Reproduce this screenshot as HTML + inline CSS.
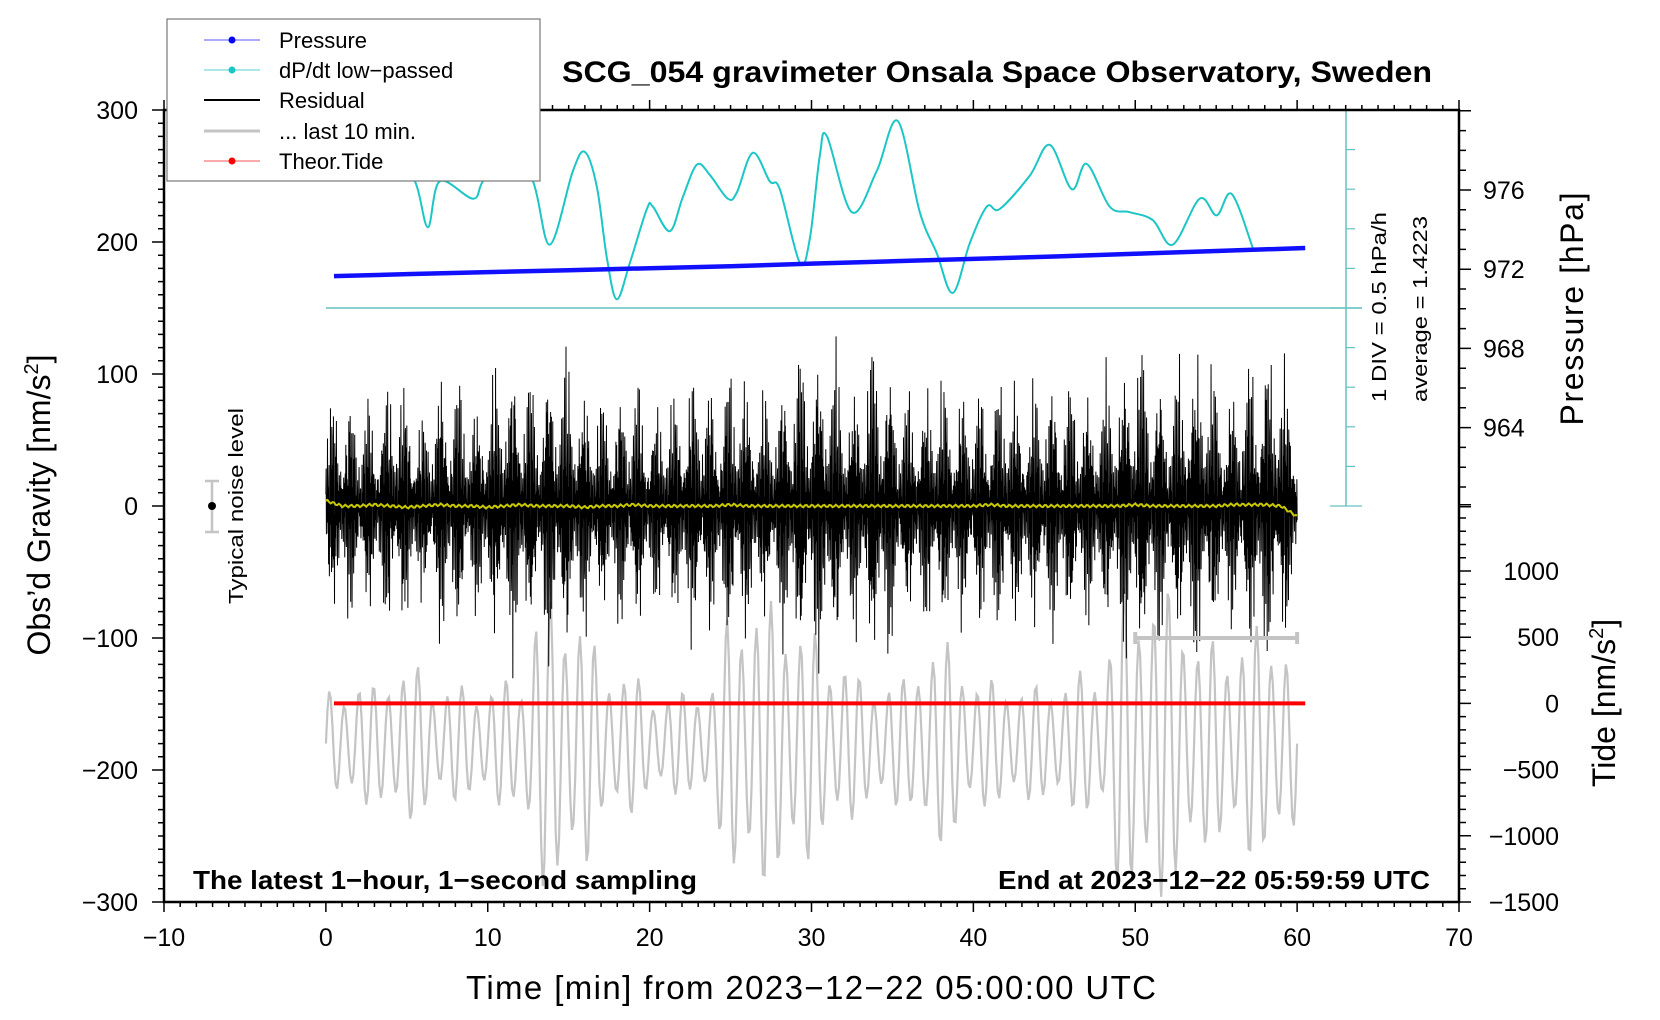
<!DOCTYPE html>
<html><head><meta charset="utf-8"><style>
html,body{margin:0;padding:0;background:#fff;}
svg{display:block;font-family:"Liberation Sans",Arial,sans-serif;}
</style></head><body>
<svg id="chart" width="1660" height="1020" viewBox="0 0 1660 1020" xmlns="http://www.w3.org/2000/svg">
<rect width="1660" height="1020" fill="#fff"/>
<g id="marks"></g>
<g id="axes"></g>
</svg>
<script>
// ---- data ----
const cyanT = [0,2,4,5.5,6.3,7.04,9.08,9.7,11.2,12.79,13.84,15.26,16.0,16.74,17.36,17.97,18.78,19.83,20.2,21.25,22.05,22.92,23.72,24.83,25.39,26.37,27.42,28.04,29.28,29.9,30.51,30.95,32.49,34.03,35.33,36.69,37.74,38.73,39.78,40.83,41.63,43.48,44.72,46.08,47.0,48.42,49.66,51.08,52.32,53.98,55.03,55.96,57.26];
const cyanV = [2.2,2.0,1.95,1.6,1.02,1.6,1.38,1.6,2.0,1.6,0.8,1.73,1.97,1.53,0.63,0.11,0.57,1.25,1.28,0.97,1.4,1.81,1.68,1.38,1.46,1.96,1.6,1.5,0.57,0.88,1.92,2.17,1.21,1.73,2.36,1.21,0.69,0.19,0.82,1.28,1.25,1.67,2.06,1.5,1.82,1.28,1.21,1.11,0.8,1.38,1.17,1.44,0.76];
const pressT = [0.5,5,10,15,20,25,30,35,40,45,50,55,60.5];
const pressV = [971.65,971.75,971.85,971.95,972.05,972.15,972.28,972.4,972.52,972.64,972.78,972.92,973.07];
const residEnv = [70,80,75,70,90,85,60,90,95,70,85,100,105,80,110,100,85,75,80,90,70,75,85,95,80,100,90,75,85,110,100,120,85,90,120,95,75,85,90,80,80,85,95,75,85,90,85,80,85,95,115,100,85,100,115,90,80,100,115,105,70];
const yellowV = [4,0,0,1,0,-1,0,1,0,0,-1,0,1,0,0,0,-1,0,0,1,0,0,0,0,0,1,0,0,0,0,0,0,0,0,0,0,0,0,0,0,0,1,0,0,0,0,0,0,0,0,1,0,0,0,0,0,1,1,1,0,-8];
const grayEnv = [40,45,50,45,60,60,60,45,45,45,45,50,50,110,115,110,100,60,60,55,40,40,40,45,50,110,115,110,110,100,90,70,70,50,50,50,50,80,80,75,50,50,50,45,45,50,50,60,60,120,120,125,120,110,80,80,80,90,90,90,60];
const grayCenter = -180;
const tideT = [0.5,20,40,60.5];
const tideV = [0,0,0,0];
const xTicks = [-10,0,10,20,30,40,50,60,70];
const yTicks = [300,200,100,0,-100,-200,-300];
const pTicks = [976,972,968,964];
const tTicks = [1000,500,0,-500,-1000,-1500];

// ---- scales ----
const X0=164,X1=1459,Y0=110,Y1=902;
const sx = t => X0 + (t+10)*(X1-X0)/80;
const sy = v => 506 - v*1.32;
const sp = p => 190 + (976-p)*19.8;
const st = v => 703.4 - v*66.2/500;
const sc = v => 308 - v*79.2;
const NS="http://www.w3.org/2000/svg";
const marks=document.getElementById('marks'), axes=document.getElementById('axes');
function mk(tag,attrs,parent){const e=document.createElementNS(NS,tag);for(const k in attrs)e.setAttribute(k,attrs[k]);(parent||marks).appendChild(e);return e;}
function interp(arr,t){const i=Math.max(0,Math.min(arr.length-2,Math.floor(t)));const f=Math.max(0,Math.min(1,t-i));return arr[i]*(1-f)+arr[i+1]*f;}

let e;
e=mk('line',{x1:sx(0),y1:sc(0),x2:1362,y2:sc(0),stroke:'#66c2c2','stroke-width':1.5});


e=mk('line',{x1:1346,y1:110,x2:1346,y2:506,stroke:'#66c2c2','stroke-width':1.5});


for(let i=0;i<=10;i++){const y=110+i*39.6;const full=(i==0||i==5||i==10);
 e=mk('line',{x1:full?1330:1346,y1:y,x2:full?1362:1355,y2:y,stroke:'#66c2c2','stroke-width':1.2});
 
 }

(function(){const pts=cyanT.map((t,i)=>[sx(t),sc(cyanV[i])]);let d='M'+pts[0][0]+','+pts[0][1];
for(let i=0;i<pts.length-1;i++){const p0=pts[Math.max(0,i-1)],p1=pts[i],p2=pts[i+1],p3=pts[Math.min(pts.length-1,i+2)];
const c1=[p1[0]+(p2[0]-p0[0])/6,p1[1]+(p2[1]-p0[1])/6],c2=[p2[0]-(p3[0]-p1[0])/6,p2[1]-(p3[1]-p1[1])/6];
d+=' C'+c1[0]+','+c1[1]+' '+c2[0]+','+c2[1]+' '+p2[0]+','+p2[1];}
e=mk('path',{d:d,fill:'none',stroke:'#1cc6c6','stroke-width':2});

})();

(function(){let d='';pressT.forEach((t,i)=>{d+=(i?'L':'M')+sx(t)+','+sp(pressV[i]);});
e=mk('path',{d:d,fill:'none',stroke:'#1010ff','stroke-width':4.5});

})();

(function(){let d='';for(let s=0;s<=3600;s+=6){const t=s/60;const a=interp(grayEnv,t);
const v=grayCenter+a*Math.sin(t*2*Math.PI*1.1)*(0.8+0.2*Math.cos(t*2.3));d+=(s?'L':'M')+sx(t).toFixed(1)+','+sy(v).toFixed(1);}
e=mk('path',{d:d,fill:'none',stroke:'#c4c4c4','stroke-width':2.2});

})();

(function(){let d='';for(let s=0;s<=3600;s++){const t=s/60;const a=interp(residEnv,t);
const burst=0.3+0.7*Math.pow(Math.abs(Math.sin(t*Math.PI*0.9+0.4)),2);
const c=Math.sin(s*2.31)*0.6+Math.sin(s*1.13+1)*0.3+Math.sin(s*0.37)*0.15;const v=1.25*a*c*burst;
d+=(s?'L':'M')+sx(t).toFixed(2)+','+sy(v).toFixed(1);}
e=mk('path',{d:d,fill:'none',stroke:'#000','stroke-width':1});

})();

(function(){let d='';for(let s=0;s<=600;s++){const t=s/10;const v=interp(yellowV,t)+1.0*Math.sin(s*1.7);d+=(s?'L':'M')+sx(t).toFixed(1)+','+sy(v).toFixed(1);}
e=mk('path',{d:d,fill:'none',stroke:'#c8c800','stroke-width':2});

})();

(function(){let d='';tideT.forEach((t,i)=>{d+=(i?'L':'M')+sx(t)+','+st(tideV[i]);});
e=mk('path',{d:d,fill:'none',stroke:'#ff0000','stroke-width':4});

})();

e=mk('path',{d:`M${sx(50)},${sy(-100)}L${sx(60)},${sy(-100)}M${sx(50)},${sy(-100)-6}V${sy(-100)+6}M${sx(60)},${sy(-100)-6}V${sy(-100)+6}`,stroke:'#c4c4c4','stroke-width':4,fill:'none'});



e=mk('path',{d:`M212,481V532M205,481H219M205,532H219`,stroke:'#c4c4c4','stroke-width':2.5,fill:'none'});


e=mk('circle',{cx:212,cy:506,r:4,fill:'#000'});



function txt(s,attrs,name){const t=mk('text',attrs,axes);t.textContent=s;return t;}
e=mk('rect',{x:X0,y:Y0,width:X1-X0,height:Y1-Y0,fill:'none',stroke:'#000','stroke-width':2.5},axes);


let td='';
for(let m=-10;m<=70;m++){const x=sx(m);const L=(m%10==0)?10:5;td+=`M${x},${Y1}V${Y1+L}M${x},${Y0}V${Y0-L}`;}
for(let v=-300;v<=300;v+=10){const y=sy(v);const L=(v%100==0)?12:6;td+=`M${X0},${y}H${X0-L}`;}
for(let p=960;p<=980;p++){const y=sp(p);const L=(p%4==0)?12:7;td+=`M${X1},${y}H${X1+L}`;}
for(let v=-1500;v<=1500;v+=100){const y=st(v);const L=(v%500==0)?12:7;td+=`M${X1},${y}H${X1+L}`;}
e=mk('path',{d:td,stroke:'#000','stroke-width':1.5,fill:'none'},axes);


const fmt=v=>String(v).replace('-','\u2212');
xTicks.forEach(v=>txt(fmt(v),{x:sx(v),y:946,'font-size':25,'text-anchor':'middle'},'x-tick-label'));
yTicks.forEach(v=>txt(fmt(v),{x:138,y:sy(v)+9,'font-size':25,'text-anchor':'end'},'y-tick-label'));
pTicks.forEach(v=>txt(fmt(v),{x:1483,y:sp(v)+9,'font-size':25},'pressure-tick-label'));
tTicks.forEach(v=>txt(fmt(v),{x:1559,y:st(v)+9,'font-size':25,'text-anchor':'end'},'tide-tick-label'));
</script>
<svg style="position:absolute;left:0;top:0" width="1660" height="1020" xmlns="http://www.w3.org/2000/svg">
<text x="997" y="82" font-size="30" font-weight="bold" text-anchor="middle" textLength="870" lengthAdjust="spacingAndGlyphs">SCG_054 gravimeter Onsala Space Observatory, Sweden</text>
<text x="193" y="889" font-size="26" font-weight="bold" textLength="504" lengthAdjust="spacingAndGlyphs">The latest 1−hour, 1−second sampling</text>
<text x="1430" y="889" font-size="26" font-weight="bold" text-anchor="end" textLength="432" lengthAdjust="spacingAndGlyphs">End at 2023−12−22 05:59:59 UTC</text>
<text x="811" y="999" font-size="33" text-anchor="middle" textLength="690">Time [min] from 2023−12−22 05:00:00 UTC</text>
<text transform="translate(50,505) rotate(-90)" font-size="32" text-anchor="middle">Obs’d Gravity [nm/s<tspan font-size="20" dy="-12">2</tspan><tspan dy="12">]</tspan></text>
<text transform="translate(1583,309) rotate(-90)" font-size="32" text-anchor="middle" textLength="233">Pressure [hPa]</text>
<text transform="translate(1615,703) rotate(-90)" font-size="32" text-anchor="middle">Tide [nm/s<tspan font-size="20" dy="-12">2</tspan><tspan dy="12">]</tspan></text>
<text transform="translate(243,506) rotate(-90)" font-size="20" text-anchor="middle" textLength="196" lengthAdjust="spacingAndGlyphs">Typical noise level</text>
<text transform="translate(1386,307) rotate(-90)" font-size="20" text-anchor="middle" textLength="190" lengthAdjust="spacingAndGlyphs">1 DIV = 0.5 hPa/h</text>
<text transform="translate(1427,309) rotate(-90)" font-size="20" text-anchor="middle" textLength="186" lengthAdjust="spacingAndGlyphs">average = 1.4223</text>
<g>
<rect x="167" y="19" width="373" height="162" fill="#fff" stroke="#777" stroke-width="1.2"/>
<g><line x1="204" y1="40" x2="260" y2="40" stroke="#5555ff" stroke-width="1"/><circle cx="232" cy="40" r="3.5" fill="#0000ff"/><text x="279" y="48" font-size="22">Pressure</text></g>
<g><line x1="204" y1="70" x2="260" y2="70" stroke="#55d0d0" stroke-width="1"/><circle cx="232" cy="70" r="3.5" fill="#1cc6c6"/><text x="279" y="78" font-size="22">dP/dt low−passed</text></g>
<g><line x1="204" y1="100" x2="260" y2="100" stroke="#000" stroke-width="2"/><text x="279" y="108" font-size="22">Residual</text></g>
<g><line x1="204" y1="131" x2="260" y2="131" stroke="#c4c4c4" stroke-width="3"/><text x="279" y="139" font-size="22">... last 10 min.</text></g>
<g><line x1="204" y1="161" x2="260" y2="161" stroke="#ff5555" stroke-width="1"/><circle cx="232" cy="161" r="3.5" fill="#ff0000"/><text x="279" y="169" font-size="22">Theor.Tide</text></g>
</g>
</svg>
</body></html>
